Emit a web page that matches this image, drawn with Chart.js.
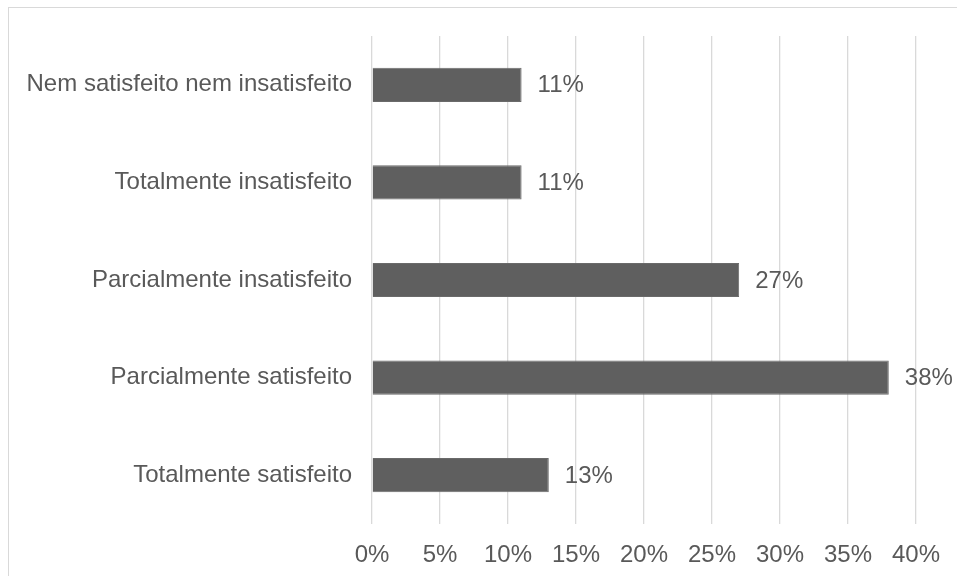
<!DOCTYPE html>
<html>
<head>
<meta charset="utf-8">
<script src="https://cdn.jsdelivr.net/npm/chart.js@4/dist/chart.umd.min.js"></script>
<style>
    html, body { margin: 0; padding: 0; background: #ffffff; overflow: hidden; }
    #frame {
        position: absolute; left: 8px; top: 7px; width: 1000px; height: 600px;
        border-left: 1px solid #d9d9d9; border-top: 1px solid #d9d9d9;
    }
    #chartBox { position: absolute; left: 0; top: 0; width: 957px; height: 576px; }
</style>
</head>
<body>
<div id="frame"></div>
<div id="chartBox"><canvas id="satisfacaoChart"></canvas></div>
<script>
const categories = [
    'Nem satisfeito nem insatisfeito',
    'Totalmente insatisfeito',
    'Parcialmente insatisfeito',
    'Parcialmente satisfeito',
    'Totalmente satisfeito'
];
const percentages = [11, 11, 27, 38, 13];
const xTicks = [0, 5, 10, 15, 20, 25, 30, 35, 40];

const textColor = '#595959';
const gridColor = '#d9d9d9';
const fontFamily = 'Arial, "Liberation Sans", sans-serif';

// draws "xx%" to the right of each bar
const barValueLabels = {
    id: 'barValueLabels',
    afterDatasetsDraw(chart) {
        const ctx = chart.ctx;
        const meta = chart.getDatasetMeta(0);
        ctx.save();
        ctx.font = '24px ' + fontFamily;
        ctx.fillStyle = textColor;
        ctx.textAlign = 'left';
        ctx.textBaseline = 'middle';
        meta.data.forEach((bar, i) => {
            ctx.fillText(percentages[i] + '%', bar.x + 16, bar.y + 1);
        });
        ctx.restore();
    }
};

const ctx = document.getElementById('satisfacaoChart').getContext('2d');

window.currentChart = new Chart(ctx, {
    type: 'bar',
    data: {
        labels: categories,
        datasets: [{
            data: percentages,
            backgroundColor: '#5f5f5f',
            borderColor: '#6a6a6a',
            borderWidth: 1,
            barPercentage: 0.35,
            categoryPercentage: 1
        }]
    },
    options: {
        indexAxis: 'y',
        responsive: true,
        maintainAspectRatio: false,
        animation: false,
        layout: {
            padding: { top: 36, right: 41, left: 0, bottom: 0 }
        },
        plugins: {
            legend: { display: false },
            tooltip: { enabled: false }
        },
        scales: {
            x: {
                min: 0,
                max: 40,
                afterBuildTicks(scale) {
                    scale.ticks = xTicks.map(v => ({ value: v }));
                },
                afterFit(scale) {
                    scale.height = 52;
                },
                ticks: {
                    color: textColor,
                    padding: 17,
                    font: { size: 24, family: fontFamily },
                    callback: value => value + '%'
                },
                grid: {
                    color: gridColor,
                    lineWidth: 1.3,
                    drawTicks: false
                },
                border: { display: false }
            },
            y: {
                afterFit(scale) {
                    scale.width = 372;
                },
                ticks: {
                    color: textColor,
                    padding: 20,
                    font: { size: 24, family: fontFamily }
                },
                grid: { display: false, drawTicks: false },
                border: { display: false }
            }
        }
    },
    plugins: [barValueLabels]
});
</script>
</body>
</html>
